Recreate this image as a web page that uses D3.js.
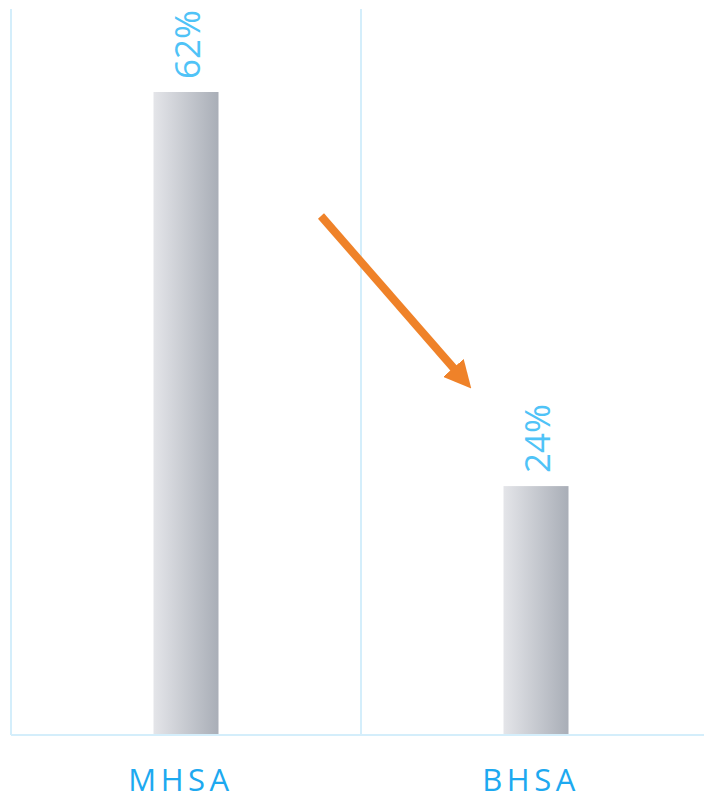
<!DOCTYPE html>
<html><head><meta charset="utf-8">
<script src="https://cdn.jsdelivr.net/npm/d3@7"></script>
<style>body{margin:0;background:#fff}svg{display:block}</style>
</head><body>
<svg id="c" width="704" height="799"></svg>
<script>
const categories = ["MHSA", "BHSA"];
const values = [62, 24];
const valueLabels = ["62%", "24%"];

const svg = d3.select("#c");
const W = 704, H = 799;
const x0 = 11, band = 350, y0 = 735, yTop = 9;

const x = d3.scaleBand().domain(categories).range([x0, x0 + band * 2]).paddingInner(0).paddingOuter(0);
const y = d3.scaleLinear().domain([0, 62]).range([y0, 92]);

const defs = svg.append("defs");
const g = defs.append("linearGradient").attr("id", "barGrad").attr("x1", "0%").attr("x2", "100%");
g.append("stop").attr("offset", "0%").attr("stop-color", "#E4E5E9");
g.append("stop").attr("offset", "100%").attr("stop-color", "#A9AEB7");

const mk = defs.append("marker").attr("id", "ah").attr("viewBox", "0 0 10 10")
  .attr("refX", 2).attr("refY", 5).attr("markerWidth", 3.4).attr("markerHeight", 3.4)
  .attr("markerUnits", "strokeWidth").attr("orient", "auto");
mk.append("path").attr("d", "M0,0 L10,5 L0,10 Z").attr("fill", "#EF8229");

// grid lines
const gridColor = "#D4EEFB";
categories.forEach(c => {
  svg.append("line").attr("x1", x(c)).attr("x2", x(c)).attr("y1", yTop).attr("y2", y0)
    .attr("stroke", gridColor).attr("stroke-width", 2);
});
svg.append("line").attr("x1", x0).attr("x2", W).attr("y1", y0).attr("y2", y0)
  .attr("stroke", gridColor).attr("stroke-width", 2);

const bw = 65;
svg.selectAll("rect.bar").data(values).enter().append("rect")
  .attr("class", "bar")
  .attr("x", (d, i) => x(categories[i]) + x.bandwidth() / 2 - bw / 2)
  .attr("width", bw)
  .attr("y", d => y(d))
  .attr("height", d => y0 - y(d) - 1)
  .attr("fill", "url(#barGrad)");

svg.selectAll("text.val").data(values).enter().append("text")
  .attr("class", "val")
  .attr("transform", (d, i) => `translate(${x(categories[i]) + x.bandwidth() / 2 + 14},${y(d) - 13}) rotate(-90)`)
  .attr("font-family", "Open Sans, sans-serif")
  .attr("font-size", 35)
  .attr("fill", "#4FC3F7")
  .text((d, i) => valueLabels[i]);

svg.selectAll("text.cat").data(categories).enter().append("text")
  .attr("class", "cat")
  .attr("x", d => x(d) + x.bandwidth() / 2 - 5)
  .attr("y", 791)
  .attr("text-anchor", "middle")
  .attr("font-family", "Open Sans, sans-serif")
  .attr("font-size", 31)
  .attr("letter-spacing", 4.5)
  .attr("fill", "#1DA9F0")
  .text(d => d);

// arrow
svg.append("line").attr("x1", 321).attr("y1", 216).attr("x2", 457).attr("y2", 372)
  .attr("stroke", "#EF8229").attr("stroke-width", 8).attr("marker-end", "url(#ah)");
</script>
</body></html>
